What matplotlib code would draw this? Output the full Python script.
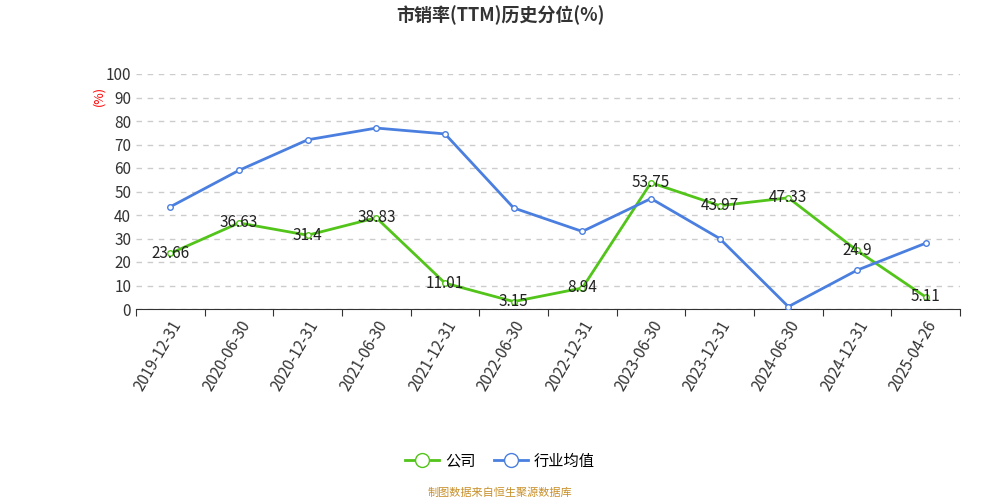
import matplotlib
matplotlib.use("Agg")
import matplotlib.pyplot as plt
from matplotlib.lines import Line2D

plt.rcParams["font.family"] = ["Noto Sans CJK SC", "DejaVu Sans"]

dates = ["2019-12-31","2020-06-30","2020-12-31","2021-06-30","2021-12-31","2022-06-30",
         "2022-12-31","2023-06-30","2023-12-31","2024-06-30","2024-12-31","2025-04-26"]
company = [23.66,36.63,31.4,38.83,11.01,3.15,8.94,53.75,43.97,47.33,24.9,5.11]
industry = [43.5,59,72,77,74.5,43,33,47,30,1,16.5,28]
yticks = list(range(0,101,10))

green = "#52c41a"
blue = "#4a7fe0"

fig = plt.figure(figsize=(10,5), dpi=100)
ax = fig.add_axes([0.136,0.382,0.824,0.47])
x = list(range(len(dates)))
ax.plot(x, company, color=green, lw=2, marker="o", ms=4, mfc="white", mec=green, zorder=3)
ax.plot(x, industry, color=blue, lw=2, marker="o", ms=4, mfc="white", mec=blue, zorder=3)
for xi, v in zip(x, company):
    ax.text(xi, v, f"{v:g}", ha="center", va="center", fontsize=11, color="#222", zorder=4)

ax.set_xlim(-0.5, len(dates)-0.5)
ax.set_ylim(0,100)
ax.set_yticks(yticks)
ax.set_xticks([i-0.5 for i in range(len(dates)+1)], minor=False)
ax.set_xticklabels([])
ax.set_xticks(x, minor=True)
ax.set_xticklabels(dates, minor=True, rotation=60, ha="right", rotation_mode="anchor", fontsize=11, color="#333")
ax.tick_params(axis="x", which="minor", length=0, pad=6)
ax.tick_params(axis="x", which="major", length=5, color="#333")
ax.tick_params(axis="y", length=0, labelsize=11, labelcolor="#333")
ax.grid(axis="y", ls=(0,(4,4)), color="#ccc", lw=1)
for s in ["top","right","left"]:
    ax.spines[s].set_visible(False)
ax.spines["bottom"].set_color("#333")
ax.text(-0.045, 0.905, "(%)", transform=ax.transAxes, rotation=90, color="red", fontsize=9, ha="center", va="center")

fig.text(0.5, 0.97, "市销率(TTM)历史分位(%)", ha="center", va="center", fontsize=13, fontweight="bold", color="#333")
handles = [Line2D([],[],color=green,lw=2,marker="o",ms=10,mfc="white",mec=green),
           Line2D([],[],color=blue,lw=2,marker="o",ms=10,mfc="white",mec=blue)]
fig.legend(handles, ["公司","行业均值"], loc="center", bbox_to_anchor=(0.5,0.078), ncol=2, frameon=False,
           fontsize=11, handlelength=2.2, columnspacing=1.2, handletextpad=0.4)
fig.text(0.5, 0.014, "制图数据来自恒生聚源数据库", ha="center", va="center", fontsize=8, color="#c8902a")
fig.savefig("out.png", dpi=100)
